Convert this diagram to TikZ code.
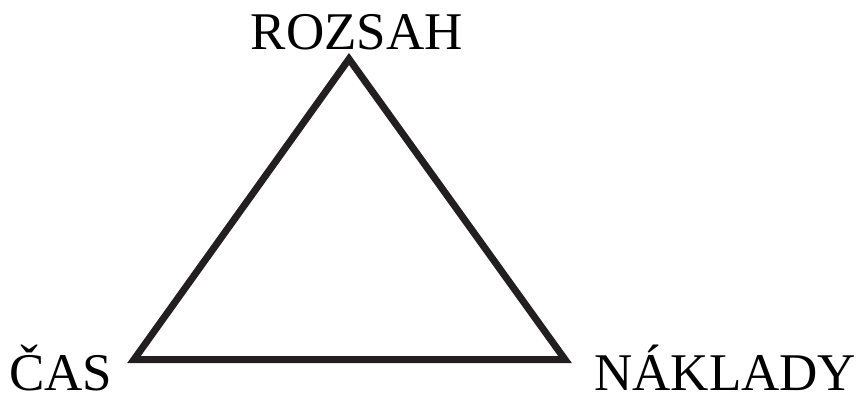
\documentclass[tikz,border=0pt]{standalone}
\usepackage{fontspec}
\setmainfont{Liberation Serif}
\usepackage{tikz}
\usetikzlibrary{positioning}
\definecolor{edgegray}{HTML}{231F20}
\tikzset{
  vertexlabel/.style={inner sep=0pt, text depth=0pt, font=\fontsize{53}{53}\selectfont},
  sideline/.style={line width=7pt, draw=edgegray, line join=miter}
}

\begin{document}
\begin{tikzpicture}[x=1pt,y=-1pt]
\useasboundingbox (0,0) rectangle (856,396);
% corners of the triangle
\coordinate (top) at (349,59);
\coordinate (left) at (134,359.5);
\coordinate (right) at (565,359.5);
\draw[sideline] (top) -- (left) -- (right) -- cycle;
% labels
\node[vertexlabel,anchor=base] (rozsah) at (357,50) {ROZSAH};
\node[vertexlabel,anchor=base west] (cas) at (9,390) {ČAS};
\node[vertexlabel,anchor=base west] (naklady) at (594,390) {NÁKLADY};
\end{tikzpicture}
\end{document}
